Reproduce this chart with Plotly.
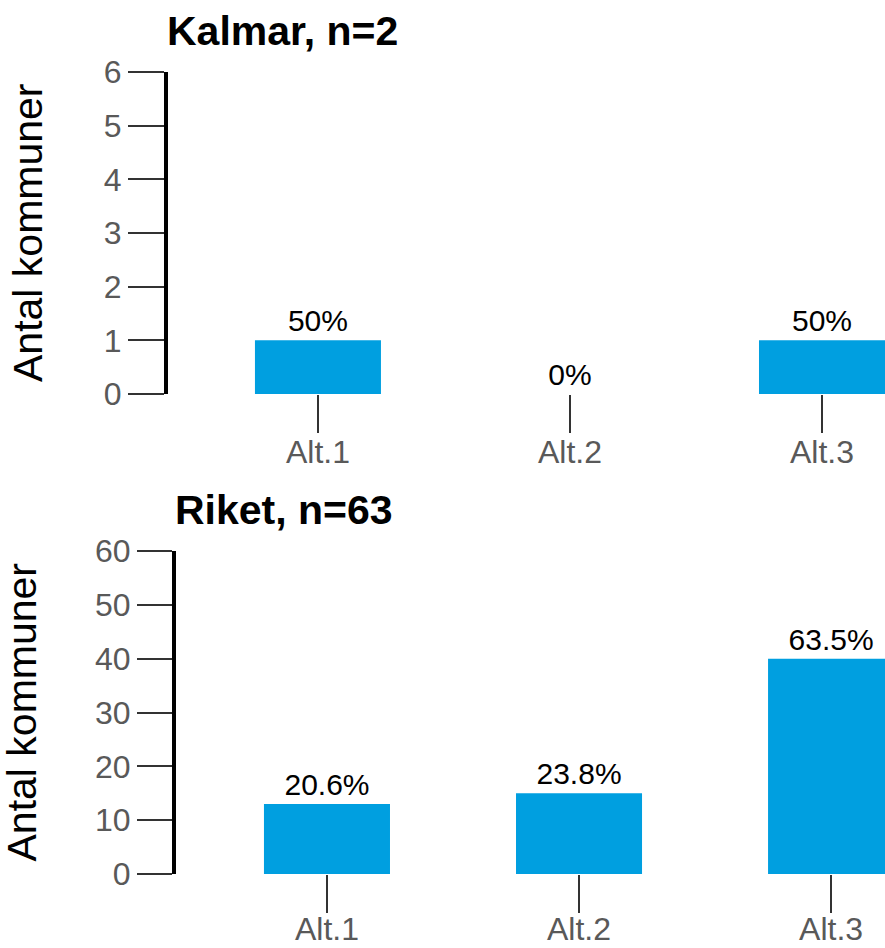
import plotly.graph_objects as go
from plotly.subplots import make_subplots

categories = ["Alt.1", "Alt.2", "Alt.3"]
kalmar_counts = [1, 0, 1]
kalmar_labels = ["50%", "0%", "50%"]
riket_counts = [13, 15, 40]
riket_labels = ["20.6%", "23.8%", "63.5%"]
titles = ["Kalmar, n=2", "Riket, n=63"]
y_title = "Antal kommuner"

W, H = 885, 948
BAR = "#009FE0"
FONT = "Liberation Sans, Arial, sans-serif"

fig = make_subplots(rows=2, cols=1)

for r, (vals, labs) in enumerate([(kalmar_counts, kalmar_labels),
                                  (riket_counts, riket_labels)], start=1):
    fig.add_trace(go.Bar(x=categories, y=vals, text=labs,
                         textposition="outside", constraintext="none", cliponaxis=False,
                         marker=dict(color=BAR, line=dict(width=0)), width=0.5,
                         textfont=dict(color="black", size=30, family=FONT)), row=r, col=1)


def xd(px):
    return px / W


def yd(py):
    return 1 - py / H


fig.update_layout(
    width=W, height=H, margin=dict(l=0, r=0, t=0, b=0, autoexpand=False),
    paper_bgcolor="white", plot_bgcolor="white", showlegend=False,
    font=dict(family=FONT),
    xaxis=dict(domain=[xd(168), 1], range=[-0.595, 2.25], ticklabelstandoff=-8),
    xaxis2=dict(domain=[xd(176), 1], range=[-0.599, 2.214], ticklabelstandoff=-11),
    yaxis=dict(domain=[yd(394), yd(72)], range=[0, 6], dtick=1, ticklen=36),
    yaxis2=dict(domain=[yd(874), yd(551)], range=[0, 60], dtick=10, ticklen=35),
)

xcommon = dict(automargin=False, showline=False, showgrid=False, zeroline=False,
               ticks="outside", ticklen=38, tickwidth=2, tickcolor="#333333",
               tickfont=dict(size=32, color="#595959", family=FONT))
ycommon = dict(automargin=False, showline=True, linewidth=4, linecolor="black",
               showgrid=False, zeroline=False, ticks="outside",
               tickwidth=2, tickcolor="#333333",
               tickfont=dict(size=32, color="#595959", family=FONT))
fig.update_xaxes(**xcommon)
fig.update_yaxes(**ycommon)

for i, (xr, yr, ycen) in enumerate([("x domain", "y domain", (72 + 394) / 2),
                                    ("x2 domain", "y2 domain", (551 + 874) / 2)]):
    fig.add_annotation(text="<b>" + titles[i] + "</b>", xref=xr, yref=yr, x=0, y=1,
                       xanchor="left", yanchor="bottom", yshift=16, xshift=-3,
                       showarrow=False,
                       font=dict(size=41, color="black", family=FONT))
    fig.add_annotation(text=y_title, xref="paper", yref="paper",
                       x=[28, 21][i] / W, y=yd(ycen), xanchor="center", yanchor="middle",
                       textangle=-90, showarrow=False,
                       font=dict(size=41, color="black", family=FONT))

fig.write_html("out.html", config={"displayModeBar": False},
               post_script="document.body.style.margin='0';document.body.style.overflow='hidden';")
